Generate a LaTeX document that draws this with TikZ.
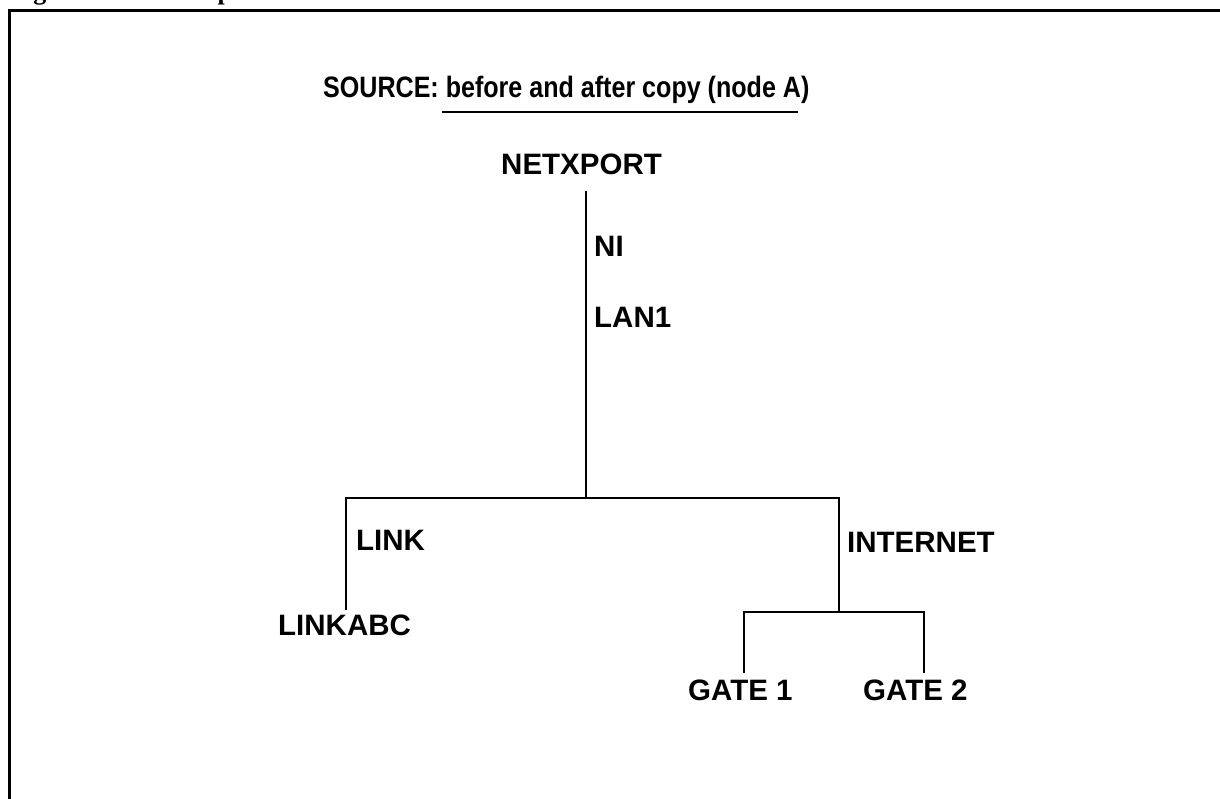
\documentclass[tikz,border=0pt]{standalone}
\usepackage{fontspec}
\setmainfont{Liberation Sans}
\newfontfamily\titleserif{Liberation Serif}
\newfontfamily\narrowsans[FakeStretch=0.85]{Liberation Sans}
\begin{document}
\begin{tikzpicture}[x=1pt,y=-1pt,
  lbl/.style={anchor=base west,inner sep=0pt,font=\fontsize{29.5}{32}\selectfont\bfseries},
  tree/.style={line width=1.5pt},
  frame/.style={line width=3pt}]
\useasboundingbox (0,0) rectangle (1220,799);
\clip (0,0) rectangle (1220,799);
% cut-off figure caption at the very top
\node[anchor=base west,inner sep=0pt,font=\titleserif\fontsize{26}{28}\selectfont\bfseries] (cap) at (10,0) {Figure 10-1. Example of Remote Node Source};
% frame
\draw[frame] (9.5,801) -- (9.5,10.5) -- (1222,10.5);
% title
\node[lbl,font=\narrowsans\fontsize{29.5}{32}\selectfont\bfseries] (src) at (323,98) {SOURCE: before and after copy (node A)};
\draw[line width=1.5pt] (442,112) -- (798,112);
% labels
\node[lbl] (netx) at (501,175) {NETXPORT};
\node[lbl] (ni) at (594,257) {NI};
\node[lbl] (lan) at (594,327) {LAN1};
\node[lbl] (link) at (356,550) {LINK};
\node[lbl] (linkabc) at (278,635) {LINKABC};
\node[lbl] (inet) at (847,552) {INTERNET};
\node[lbl] (g1) at (688,700) {GATE 1};
\node[lbl] (g2) at (863,700) {GATE 2};
% junction coordinates
\coordinate (top) at (586,191);
\coordinate (j1) at (586,498);
\coordinate (jl) at (346,498);
\coordinate (jr) at (839,498);
\coordinate (jlb) at (346,610);
\coordinate (j2) at (839,612);
\coordinate (j2l) at (744,612);
\coordinate (j2r) at (924,612);
\coordinate (g1t) at (744,673);
\coordinate (g2t) at (924,673);
% tree
\draw[tree] (top) -- (j1);
\draw[tree] (jlb) -- (jl) -- (jr) -- (j2);
\draw[tree] (g1t) -- (j2l) -- (j2r) -- (g2t);
\end{tikzpicture}
\end{document}
